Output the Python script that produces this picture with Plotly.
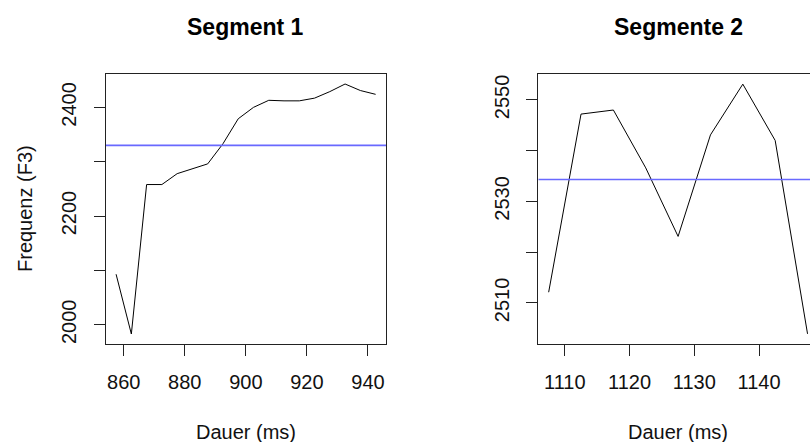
import plotly.graph_objects as go

# ---- data ----
seg1_x = [857.5, 862.5, 867.5, 872.5, 877.5, 882.5, 887.5, 892.5, 897.5,
          902.5, 907.5, 912.5, 917.5, 922.5, 927.5, 932.5, 937.5, 942.5]
seg1_y = [2093, 1983, 2258, 2258, 2278, 2287, 2296, 2333, 2379,
          2400, 2413, 2412, 2412, 2417, 2429, 2443, 2431, 2424]
seg1_mean = 2330

seg2_x = [1107.5, 1112.5, 1117.5, 1122.5, 1127.5, 1132.5, 1137.5, 1142.5, 1147.5]
seg2_y = [2512.1, 2547.2, 2548.0, 2536.6, 2523.1, 2543.1, 2553.1, 2542.0, 2503.9]
seg2_mean = 2534.3

seg1_xticks = [860, 880, 900, 920, 940]
seg1_yticks = [2000, 2100, 2200, 2300, 2400]
seg1_yticktext = ["2000", "", "2200", "", "2400"]
seg2_xticks = [1110, 1120, 1130, 1140, 1150]
seg2_yticks = [2510, 2520, 2530, 2540, 2550]
seg2_yticktext = ["2510", "", "2530", "", "2550"]

titles = ["Segment 1", "Segmente 2"]
xlabel = "Dauer (ms)"
ylabel = "Frequenz (F3)"

# ---- layout geometry (pixels) ----
W, H = 810, 442
FONT = "Liberation Sans, Arial, Helvetica, sans-serif"
MEAN_COLOR = "rgb(105,105,255)"


def px(x):
    return x / W


def py(y):
    return 1 - y / H


fig = go.Figure()

# panel 1
fig.add_trace(go.Scatter(x=seg1_x, y=seg1_y, mode="lines",
                         line=dict(color="black", width=1), xaxis="x", yaxis="y"))
fig.add_trace(go.Scatter(x=[854.1, 945.9], y=[seg1_mean, seg1_mean], mode="lines",
                         line=dict(color=MEAN_COLOR, width=1.6), xaxis="x", yaxis="y"))
# panel 2
fig.add_trace(go.Scatter(x=seg2_x, y=seg2_y, mode="lines",
                         line=dict(color="black", width=1), xaxis="x2", yaxis="y2"))
fig.add_trace(go.Scatter(x=[1105.9, 1149.1], y=[seg2_mean, seg2_mean], mode="lines",
                         line=dict(color=MEAN_COLOR, width=1.6), xaxis="x2", yaxis="y2"))

top, bottom = 74, 344
ydom = [py(bottom), py(top)]

axis_common = dict(showgrid=False, zeroline=False, showline=True, linecolor="#222",
                   linewidth=1, ticks="outside", ticklen=11, tickcolor="#222",
                   tickfont=dict(family=FONT, size=20, color="#111"))

# x range for panel 2 clipped at the window's right edge
x2_left_px, x2_right_px_full = 538.3, 817.9
x2_lo, x2_hi_full = 1105.9, 1149.1
x2_hi = x2_lo + (W - x2_left_px) / (x2_right_px_full - x2_left_px) * (x2_hi_full - x2_lo)

fig.update_layout(
    width=W, height=H,
    margin=dict(l=0, r=0, t=0, b=0),
    paper_bgcolor="white", plot_bgcolor="white",
    showlegend=False,
    xaxis=dict(domain=[px(105.7), px(386)], range=[854.1, 945.9], anchor="y",
               tickvals=seg1_xticks, mirror=True, ticklabelstandoff=9, **axis_common),
    yaxis=dict(domain=ydom, range=[1964.6, 2461.4], anchor="x",
               tickvals=seg1_yticks, ticktext=seg1_yticktext, tickangle=-90,
               mirror=True, ticklabelstandoff=10, **axis_common),
    xaxis2=dict(domain=[px(x2_left_px), 1], range=[x2_lo, x2_hi], anchor="y2",
                tickvals=seg2_xticks, mirror=True, ticklabelstandoff=9, **axis_common),
    yaxis2=dict(domain=ydom, range=[2501.9, 2555.1], anchor="x2",
                tickvals=seg2_yticks, ticktext=seg2_yticktext, tickangle=-90,
                mirror=False, ticklabelstandoff=9, **axis_common),
)

ann = []
centers = [(105.7 + 386) / 2, (x2_left_px + x2_right_px_full) / 2]
for c, t in zip(centers, titles):
    ann.append(dict(x=px(c), y=py(27), xref="paper", yref="paper", text="<b>" + t + "</b>",
                    showarrow=False, xanchor="center", yanchor="middle",
                    font=dict(family=FONT, size=23, color="black")))
    ann.append(dict(x=px(c), y=py(432), xref="paper", yref="paper", text=xlabel,
                    showarrow=False, xanchor="center", yanchor="middle",
                    font=dict(family=FONT, size=20, color="#111")))
ann.append(dict(x=px(25), y=py(209), xref="paper", yref="paper", text=ylabel,
                showarrow=False, xanchor="center", yanchor="middle", textangle=-90,
                font=dict(family=FONT, size=20, color="#111")))
fig.update_layout(annotations=ann)

fig.write_html("out.html")
